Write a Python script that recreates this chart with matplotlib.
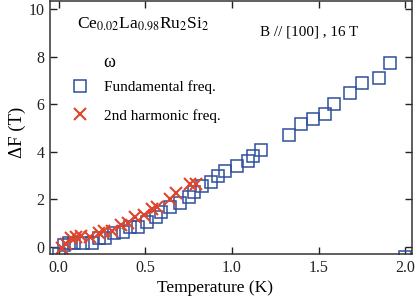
import matplotlib
matplotlib.use("Agg")
import matplotlib.pyplot as plt

# Fundamental frequency (squares)
tFund = [0.0, 0.03, 0.06, 0.09, 0.14, 0.19, 0.23, 0.27, 0.32, 0.37, 0.41,
         0.46, 0.51, 0.56, 0.59, 0.64, 0.70, 0.75, 0.78, 0.83, 0.88, 0.92,
         0.96, 1.03, 1.09, 1.12, 1.17, 1.33, 1.40, 1.47, 1.54, 1.59, 1.68,
         1.75, 1.85, 1.91, 2.0]
dfFund = [-0.3, 0.05, 0.15, 0.15, 0.17, 0.17, 0.35, 0.38, 0.56, 0.63, 0.82,
          0.84, 1.05, 1.26, 1.47, 1.66, 1.85, 2.11, 2.32, 2.55, 2.74, 2.98,
          3.19, 3.40, 3.62, 3.82, 4.07, 4.70, 5.15, 5.36, 5.59, 5.99, 6.46,
          6.88, 7.10, 7.75, -0.45]

# 2nd harmonic frequency (crosses)
tHarm = [0.02, 0.04, 0.07, 0.10, 0.13, 0.18, 0.23, 0.26, 0.31, 0.36, 0.40,
         0.44, 0.49, 0.54, 0.57, 0.64, 0.68, 0.76, 0.79]
dfHarm = [-0.05, 0.1, 0.35, 0.42, 0.45, 0.42, 0.56, 0.68, 0.66, 0.92, 1.0,
          1.26, 1.33, 1.60, 1.68, 2.0, 2.28, 2.62, 2.62]

xticks = [0.0, 0.5, 1.0, 1.5, 2.0]
yticks = [0, 2, 4, 6, 8, 10]

blue = "#2f4f9c"
red = "#e0452a"

plt.rcParams['font.family'] = ['Liberation Serif', 'DejaVu Serif']
plt.rcParams['mathtext.fontset'] = 'stix'

fig = plt.figure(figsize=(4.15, 3.01), dpi=100)
ax = fig.add_axes([0.1205, 0.156, 0.8725, 0.841])

ax.plot(tFund, dfFund, ls='none', marker='s', ms=8, mfc='none',
        mec=blue, mew=1.1, label="Fundamental freq.")
ax.plot(tHarm, dfHarm, ls='none', marker='x', ms=9, mec=red, mew=1.5,
        label="2nd harmonic freq.")

ax.set_xlim(-0.05, 2.04)
ax.set_ylim(-0.31, 10.35)
ax.set_xticks(xticks)
ax.set_xticklabels(["{:.1f}".format(v) for v in xticks])
ax.set_yticks(yticks)
ax.tick_params(direction='in', length=5, width=1, top=True, right=True,
               labelsize=11.5, pad=4, colors='#222222')
for s in ax.spines.values():
    s.set_color('#333333')
    s.set_linewidth(1.1)

ax.set_xlabel("Temperature (K)", fontsize=12.5, labelpad=3, x=0.456)
ax.set_ylabel("\u0394F (T)", fontsize=13.5, labelpad=2, y=0.48)

ax.text(0.075, 0.905, r"Ce$_{0.02}$La$_{0.98}$Ru$_2$Si$_2$", fontsize=12.5,
        transform=ax.transAxes, va='center', ha='left')
ax.text(0.58, 0.877, "B // [100] , 16 T", fontsize=10.9,
        transform=ax.transAxes, va='center', ha='left')
ax.text(0.146, 0.757, "\u03c9", fontsize=13, transform=ax.transAxes,
        va='center', ha='left')

ax.legend(loc='upper left', bbox_to_anchor=(0.04, 0.71), frameon=False,
          fontsize=11, handletextpad=1.0, labelspacing=0.95,
          handlelength=1.2, borderaxespad=0)

fig.savefig("out.png", dpi=100)
